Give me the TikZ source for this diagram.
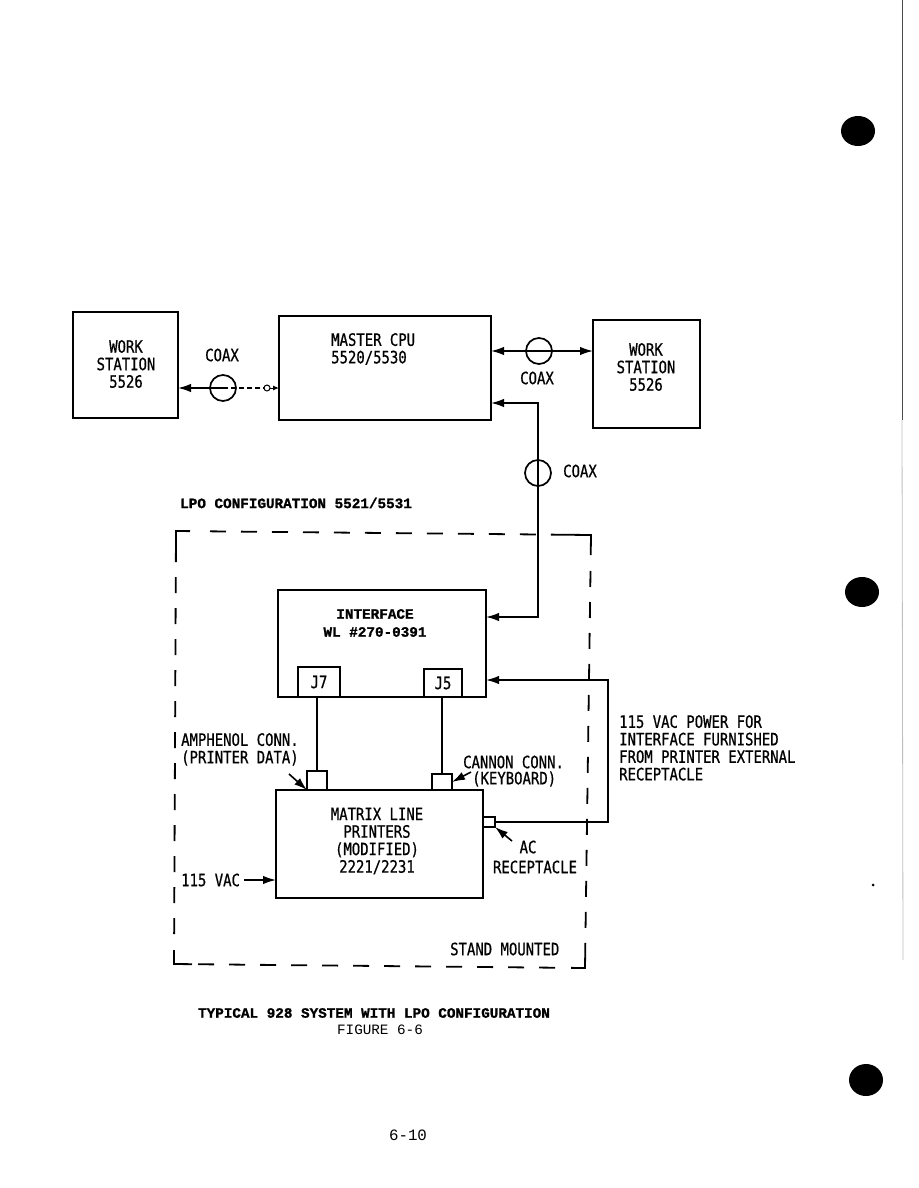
\documentclass[tikz,border=0pt]{standalone}
\usepackage{fontspec}
\newfontfamily\lgfont[FakeStretch=0.82,FakeBold=0.7]{DejaVu Sans Mono}
\newfontfamily\tyfont{Liberation Mono}
\newfontfamily\tybfont[FakeBold=1.2]{Liberation Mono Bold}
\usetikzlibrary{arrows.meta,calc}
\begin{document}
\begin{tikzpicture}[x=1pt,y=-1pt,
 box/.style={draw,line width=1.7pt,inner sep=0pt,outer sep=0pt},
 coaxring/.style={draw,circle,line width=1.7pt,minimum size=26pt,inner sep=0pt,outer sep=0pt},
 wire/.style={line width=1.6pt},
 arr/.style={wire,-{Latex[length=13pt,width=8.5pt]}},
 lbl/.style={font=\lgfont\fontsize{17}{17.5}\selectfont,inner sep=0pt,align=left},
 lblc/.style={lbl,align=center},
 tlbl/.style={font=\tybfont\fontsize{14.3}{18}\selectfont,inner sep=0pt,align=center},
 lpo/.style={line width=1.8pt,dash pattern=on 16pt off 15pt},
 lpocorner/.style={line width=1.8pt},
 hole/.style={fill=black,draw=none}]
\useasboundingbox (0,0) rectangle (918,1188);
\fill[white] (0,0) rectangle (918,1188);

% page edge and punch holes
\draw[black!70,line width=1pt] (902,0) -- (902,420);
\draw[black!25,line width=0.8pt] (902,420) -- (903,960);
\fill[hole] (858,131) ellipse [x radius=17, y radius=15];
\fill[hole] (862,592) ellipse [x radius=17, y radius=15];
\fill[hole] (866,1080) ellipse [x radius=17, y radius=16];
\fill[hole] (873,885) circle [radius=1.5];

% boxes
\node[box,minimum width=105pt,minimum height=106pt] (ws1) at (125.5,365) {};
\node[box,minimum width=212pt,minimum height=104pt] (cpu) at (385,368) {};
\node[box,minimum width=107pt,minimum height=108pt] (ws2) at (646.5,374) {};
\node[box,minimum width=208pt,minimum height=107pt] (iface) at (382,643.5) {};
\node[box,minimum width=42pt,minimum height=30pt] (j7) at (319,682) {};
\node[box,minimum width=38pt,minimum height=28pt] (j5) at (443,683) {};
\node[box,minimum width=207pt,minimum height=108pt] (prn) at (379.5,844) {};
\node[box,minimum width=20pt,minimum height=19pt] (amph) at (317,780.5) {};
\node[box,minimum width=20pt,minimum height=16pt] (cann) at (442,782) {};
\node[box,line width=1.2pt,minimum width=12pt,minimum height=10pt] (acr) at (489,822) {};

% coax rings
\node[coaxring] (c1) at (223,388) {};
\node[coaxring] (c2) at (539,351) {};
\node[coaxring] (c3) at (538,473) {};
\node[draw,circle,line width=1pt,minimum size=6pt,inner sep=0pt,outer sep=0pt] (sc) at (267,388) {};

% helper coordinates
\coordinate (k1) at (538,403);
\coordinate (k2) at (538,617);
\coordinate (p1) at (608,680);
\coordinate (p2) at (608,822);
\coordinate (a1) at (289,774);
\coordinate (b1) at (471,772);
\coordinate (ac1) at (512,841);

% connectors
\draw[arr] (c1.center) -- (ws1.east |- c1);
\draw[wire,dash pattern=on 5pt off 3pt] (c1.center) -- (sc.west);
\draw[line width=1pt,-{Latex[length=6pt,width=5pt]}] (sc.east) -- (cpu.west |- sc);
\draw[arr] (c2.center) -- (cpu.east |- c2);
\draw[arr] (c2.center) -- (ws2.west |- c2);
\draw[arr] (c3.center) -- (k1) -- (cpu.east |- k1);
\draw[arr] (c3.center) -- (k2) -- (iface.east |- k2);
\draw[arr] (acr.east) -- (p2) -- (p1) -- (iface.east |- p1);
\draw[wire] (amph.north) -- (amph.north |- j7.south);
\draw[wire] (cann.north) -- (cann.north |- j5.south);
\draw[arr] (a1) -- (amph.south west);
\draw[arr] (b1) -- (cann.east);
\draw[arr] (ac1) -- (acr.south east);

% LPO dashed enclosure
\coordinate (TL) at (176,531);
\coordinate (TR) at (591,535);
\coordinate (BR) at (585,968);
\coordinate (BL) at (174,964);
\draw[lpocorner] ($(TL)!18pt!(BL)$) -- (TL) -- ($(TL)!14pt!(TR)$);
\draw[lpocorner] ($(TR)!28pt!(TL)$) -- (TR) -- ($(TR)!20pt!(BR)$);
\draw[lpocorner] ($(BR)!14pt!(BL)$) -- (BR) -- ($(BR)!18pt!(TR)$);
\draw[lpocorner] ($(BL)!14pt!(TL)$) -- (BL) -- ($(BL)!18pt!(BR)$);
\draw[lpo] ($(TL)!34pt!(TR)$) -- ($(TR)!28pt!(TL)$);
\draw[lpo] ($(TR)!36pt!(BR)$) -- ($(BR)!18pt!(TR)$);
\draw[lpo] ($(BR)!30pt!(BL)$) -- ($(BL)!18pt!(BR)$);
\draw[lpo] ($(BL)!30pt!(TL)$) -- ($(TL)!18pt!(BL)$);

% texts
\node[lblc] (tws1) at (126,364) {WORK\\STATION\\5526};
\node[lbl,anchor=north west] (tcpu) at (331,333) {MASTER CPU\\5520/5530};
\node[lblc] (tws2) at (646,367) {WORK\\STATION\\5526};
\node[lbl] (tc1) at (222,355) {COAX};
\node[lbl] (tc2) at (537,378) {COAX};
\node[lbl] (tc3) at (580,471) {COAX};
\node[tlbl,anchor=west] (tlpo) at (180,503) {LPO CONFIGURATION 5521/5531};
\node[tlbl] (tif) at (375,623) {INTERFACE\\WL \#270-0391};
\node[lbl] (tj7) at (j7) {J7};
\node[lbl] (tj5) at (j5) {J5};
\node[lblc] (tprn) at (377,841) {MATRIX LINE\\PRINTERS\\(MODIFIED)\\2221/2231};
\node[lbl,anchor=north west] (tamph) at (181,733) {AMPHENOL CONN.\\(PRINTER DATA)};
\node[lbl,anchor=west] (tcan1) at (463,762) {CANNON CONN.};
\node[lbl,anchor=west] (tcan2) at (472,779) {(KEYBOARD)};
\node[lbl] (tac1) at (528,847) {AC};
\node[lbl] (tac2) at (535,867) {RECEPTACLE};
\node[lbl,anchor=west] (t115) at (181,880) {115 VAC};
\coordinate (v1) at ($(t115.east)+(4,0)$);
\draw[arr] (v1) -- (prn.west |- v1);
\node[lbl,anchor=west] (tstand) at (450,949) {STAND MOUNTED};
\node[lbl,anchor=north west] (tpow) at (619,715) {115 VAC POWER FOR\\INTERFACE FURNISHED\\FROM PRINTER EXTERNAL\\RECEPTACLE};
\node[tlbl] (tcap1) at (374,1013) {TYPICAL 928 SYSTEM WITH LPO CONFIGURATION};
\node[font=\tyfont\fontsize{14.3}{18}\selectfont,inner sep=0pt] (tcap2) at (380,1030) {FIGURE 6-6};
\node[font=\tyfont\fontsize{15.8}{18}\selectfont,inner sep=0pt] (tpage) at (408,1135) {6-10};
\end{tikzpicture}
\end{document}
